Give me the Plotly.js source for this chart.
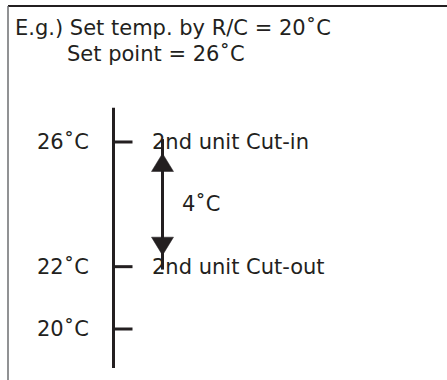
<!DOCTYPE html>
<html>
<head>
<meta charset="utf-8">
<script src="https://cdn.plot.ly/plotly-3.0.1.min.js"></script>
<style>html,body{margin:0;padding:0;background:#fff;}#chart{width:447px;height:380px;}</style>
</head>
<body>
<div id="chart"></div>
<script>
// ---- data ----
const headerLine1 = 'E.g.) Set temp. by R/C = 20˚C';
const headerLine2 = 'Set point = 26˚C';
const temps = [26, 22, 20];
const tempLabels = ['26˚C', '22˚C', '20˚C'];
const eventLabels = ['2nd unit Cut-in', '2nd unit Cut-out', ''];
const differentialLabel = '4˚C';
const scaleTop = 27.1;
const scaleBottom = 18.75;

// ---- layout constants (pixel-based x axis) ----
const W = 447, H = 380;
const ink = '#231f20';
const font = {family: 'DejaVu Sans, Liberation Sans, Arial, sans-serif', size: 21, color: ink};
const pxPerDeg = 31.17;
const yTop = 26 + 142 / pxPerDeg;
const yBot = 20 - 51 / pxPerDeg;
const scaleX = 113.5;
const tickLen = 19;
const arrowX = 162.5;
const headH = 18 / pxPerDeg;
const headHalfW = 11;
const tipGap = 11.5 / pxPerDeg;

const traces = [];
// differential arrow between cut-in and cut-out
const hi = temps[0] - tipGap, lo = temps[1] + tipGap;
traces.push({x: [arrowX, arrowX], y: [hi + headH * 0.8, lo - headH * 0.8], mode: 'lines',
  line: {color: ink, width: 3}, hoverinfo: 'skip'});
traces.push({x: [arrowX - headHalfW, arrowX + headHalfW, arrowX, arrowX - headHalfW],
  y: [hi - headH, hi - headH, hi, hi - headH], mode: 'lines', fill: 'toself',
  fillcolor: ink, line: {color: ink, width: 0.5}, hoverinfo: 'skip'});
traces.push({x: [arrowX - headHalfW, arrowX + headHalfW, arrowX, arrowX - headHalfW],
  y: [lo + headH, lo + headH, lo, lo + headH], mode: 'lines', fill: 'toself',
  fillcolor: ink, line: {color: ink, width: 0.5}, hoverinfo: 'skip'});

// scale spine and ticks as axis-referenced shapes built from the data
const scaleShapes = [
  {type: 'line', xref: 'x', yref: 'y', x0: scaleX, x1: scaleX, y0: scaleTop, y1: scaleBottom,
    line: {color: ink, width: 3}}
];
temps.forEach(t => {
  scaleShapes.push({type: 'rect', xref: 'x', yref: 'y', x0: scaleX - 1.5, x1: scaleX + tickLen,
    y0: t - 1.5 / pxPerDeg, y1: t + 1.5 / pxPerDeg, fillcolor: ink, line: {width: 0}});
});

const annotations = [];
annotations.push({x: 13, y: 1 - 28 / H, xref: 'x', yref: 'paper', text: headerLine1,
  showarrow: false, xanchor: 'left', yanchor: 'middle', font: font});
annotations.push({x: 65, y: 1 - 54 / H, xref: 'x', yref: 'paper', text: headerLine2,
  showarrow: false, xanchor: 'left', yanchor: 'middle', font: font});
temps.forEach((t, i) => {
  annotations.push({x: 91, y: t, xref: 'x', yref: 'y', text: tempLabels[i],
    showarrow: false, xanchor: 'right', yanchor: 'middle', font: font});
  if (eventLabels[i]) {
    annotations.push({x: 150, y: t, xref: 'x', yref: 'y', text: eventLabels[i],
      showarrow: false, xanchor: 'left', yanchor: 'middle', font: font});
  }
});
annotations.push({x: 180, y: (temps[0] + temps[1]) / 2, xref: 'x', yref: 'y',
  text: differentialLabel, showarrow: false, xanchor: 'left', yanchor: 'middle', font: font});

const layout = {
  width: W, height: H,
  margin: {l: 0, r: 0, t: 0, b: 0, pad: 0},
  paper_bgcolor: '#fff', plot_bgcolor: '#fff',
  showlegend: false,
  xaxis: {range: [0, W], visible: false, fixedrange: true},
  yaxis: {range: [yBot, yTop], visible: false, fixedrange: true},
  shapes: [
    {type: 'line', xref: 'x', yref: 'paper', x0: 8, x1: W, y0: 1 - 6 / H, y1: 1 - 6 / H,
      line: {color: ink, width: 2}},
    {type: 'line', xref: 'x', yref: 'paper', x0: 8, x1: 8, y0: 1 - 6 / H, y1: 0,
      line: {color: '#6d6e71', width: 1.5}}
  ].concat(scaleShapes),
  annotations: annotations
};

Plotly.newPlot('chart', traces, layout, {displayModeBar: false, staticPlot: true});
</script>
</body>
</html>
